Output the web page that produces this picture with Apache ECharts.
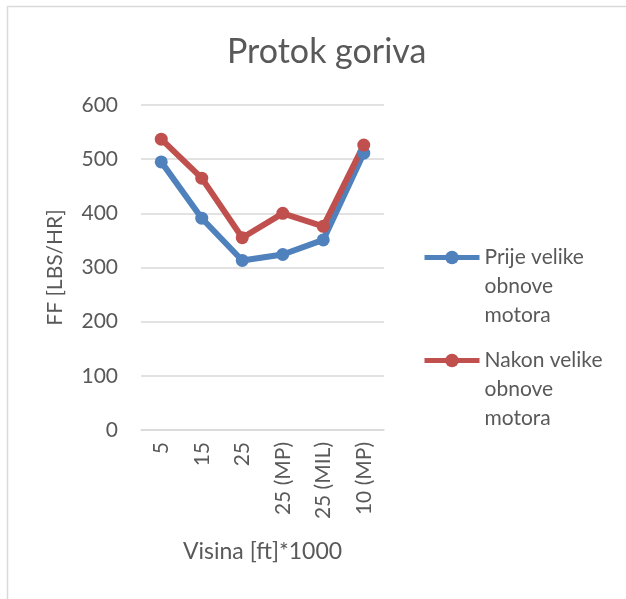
<!DOCTYPE html>
<html>
<head>
<meta charset="utf-8">
<script src="https://cdn.jsdelivr.net/npm/echarts@6/dist/echarts.min.js"></script>
<style>
  html, body { margin: 0; padding: 0; background: #fff; }
  #chart { width: 626px; height: 599px; }
</style>
</head>
<body>
<div id="chart"></div>
<script>
var categories = ['5', '15', '25', '25 (MP)', '25 (MIL)', '10 (MP)'];
var prije = [495, 391, 313, 324, 351, 511];
var nakon = [537, 465, 355, 400, 376, 526];
var seriesNames = ['Prije velike\nobnove\nmotora', 'Nakon velike\nobnove\nmotora'];

var textColor = '#595959';
var font = 'Lato, "Open Sans", sans-serif';

var chart = echarts.init(document.getElementById('chart'), null, { renderer: 'canvas' });

var option = {
    animation: false,
    color: ['#4F81BD', '#C0504D'],
    textStyle: { fontFamily: font, color: textColor },
    graphic: [{
        // chart border like Excel's chart area
        type: 'rect',
        shape: { x: 7.5, y: 6.5, width: 640, height: 620 },
        style: { fill: 'none', stroke: '#D9D9D9', lineWidth: 1.5 },
        silent: true
    }],
    title: {
        text: 'Protok goriva',
        left: 222,
        top: 30,
        textStyle: { fontFamily: font, fontSize: 34, fontWeight: 'normal', color: textColor }
    },
    legend: {
        orient: 'vertical',
        left: 417,
        top: 180,
        itemWidth: 55,
        itemHeight: 17,
        itemGap: -42,
        lineStyle: { width: 5 },
        // two empty lines on top so the first line of the name sits beside the icon
        formatter: function (name) { return '\n\n' + name; },
        textStyle: {
            fontFamily: font,
            fontSize: 21,
            color: textColor,
            lineHeight: 29
        },
        data: seriesNames
    },
    grid: { left: 141, right: 242, top: 105, bottom: 169 },
    xAxis: {
        type: 'category',
        data: categories,
        name: 'Visina [ft]*1000',
        nameLocation: 'middle',
        nameGap: 110,
        nameTextStyle: { fontFamily: font, fontSize: 23, color: textColor },
        axisLine: { lineStyle: { color: '#D9D9D9', width: 1.5 } },
        axisTick: { show: false },
        axisLabel: { rotate: 90, fontFamily: font, fontSize: 21, color: textColor, margin: 12 }
    },
    yAxis: {
        type: 'value',
        min: 0,
        max: 600,
        interval: 100,
        name: 'FF [LBS/HR]',
        nameLocation: 'middle',
        nameGap: 75,
        nameTextStyle: { fontFamily: font, fontSize: 21, color: textColor },
        axisLine: { show: false },
        axisTick: { show: false },
        axisLabel: { fontFamily: font, fontSize: 21, color: textColor, margin: 23 },
        splitLine: { lineStyle: { color: '#D9D9D9', width: 1.5 } }
    },
    series: [{
        name: seriesNames[0],
        type: 'line',
        data: prije,
        symbol: 'circle',
        symbolSize: 13,
        lineStyle: { width: 6 }
    }, {
        name: seriesNames[1],
        type: 'line',
        data: nakon,
        symbol: 'circle',
        symbolSize: 13,
        lineStyle: { width: 6 }
    }]
};
chart.setOption(option);
</script>
</body>
</html>
